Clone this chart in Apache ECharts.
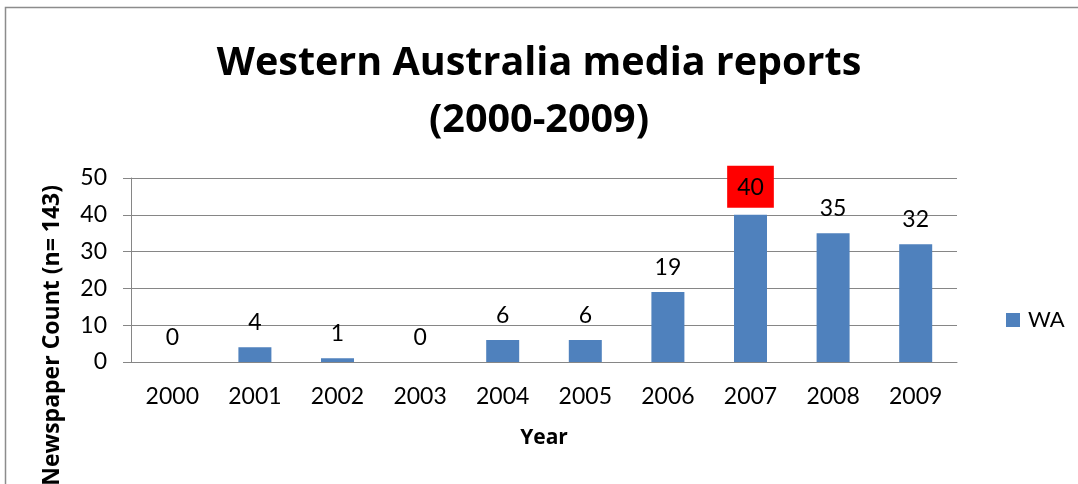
<!DOCTYPE html>
<html>
<head>
<meta charset="utf-8">
<script src="https://cdn.jsdelivr.net/npm/echarts@6/dist/echarts.min.js"></script>
<style>html,body{margin:0;padding:0;background:#fff}#c{width:1078px;height:484px}</style>
</head>
<body>
<div id="c"></div>
<script>
const years = ['2000','2001','2002','2003','2004','2005','2006','2007','2008','2009'];
const waCounts = [0, 4, 1, 0, 6, 6, 19, 40, 35, 32];
const yTicks = [0, 10, 20, 30, 40, 50];
const highlightYear = '2007';

const FONT = 'Lato';
const BOLD = 'Open Sans';
const chart = echarts.init(document.getElementById('c'), null, {renderer: 'canvas'});

const seriesData = waCounts.map((v, i) => {
  const item = {value: v};
  if (years[i] === highlightYear) {
    item.label = {backgroundColor: '#ff0000', padding: [10, 10, 9, 10], distance: 7};
  }
  return item;
});

chart.setOption({
  animation: false,
  backgroundColor: '#ffffff',
  textStyle: {fontFamily: FONT},
  title: {
    text: 'Western Australia media reports\n(2000-2009)',
    left: 'center',
    top: 30,
    textStyle: {fontFamily: BOLD, fontSize: 39.5, fontWeight: 'bold', color: '#000', lineHeight: 57}
  },
  legend: {
    data: ['WA'],
    left: 1001,
    top: 304,
    itemWidth: 14,
    itemHeight: 14,
    icon: 'rect',
    textStyle: {fontFamily: FONT, fontSize: 22, color: '#000', padding: [0, 0, 0, 3]}
  },
  grid: {left: 131, right: 121, top: 178, bottom: 122, containLabel: false},
  xAxis: {
    type: 'category',
    data: years,
    name: 'Year',
    nameLocation: 'middle',
    nameGap: 66,
    nameTextStyle: {fontFamily: BOLD, fontSize: 21, fontWeight: 'bold', color: '#000', verticalAlign: 'top'},
    axisLine: {show: true, lineStyle: {color: '#868686', width: 1}},
    axisTick: {show: false},
    axisLabel: {fontFamily: FONT, fontSize: 23, color: '#000', margin: 23}
  },
  yAxis: {
    type: 'value',
    min: yTicks[0],
    max: yTicks[yTicks.length - 1],
    interval: yTicks[1] - yTicks[0],
    axisLine: {show: true, lineStyle: {color: '#868686', width: 1}},
    axisTick: {show: true, length: 8, inside: false, lineStyle: {color: '#868686'}},
    axisLabel: {fontFamily: FONT, fontSize: 23, color: '#000', margin: 24},
    splitLine: {show: true, lineStyle: {color: '#868686', width: 1}}
  },
  series: [{
    name: 'WA',
    type: 'bar',
    data: seriesData,
    barWidth: 33,
    itemStyle: {color: '#4f81bd'},
    label: {
      show: true,
      position: 'top',
      distance: 13,
      fontFamily: FONT,
      fontSize: 23,
      color: '#000'
    }
  }],
  graphic: [
    {
      type: 'rect',
      shape: {x: 5.5, y: 7.5, width: 1200, height: 600},
      style: {fill: 'none', stroke: '#8c8c8c', lineWidth: 1.5},
      silent: true
    },
    {
      type: 'text',
      x: 52,
      y: 185,
      rotation: Math.PI / 2,
      style: {
        text: 'Newspaper Count (n= 143)',
        font: 'bold 23px "' + BOLD + '"',
        fill: '#000',
        align: 'right',
        verticalAlign: 'middle'
      }
    }
  ]
});
</script>
</body>
</html>
